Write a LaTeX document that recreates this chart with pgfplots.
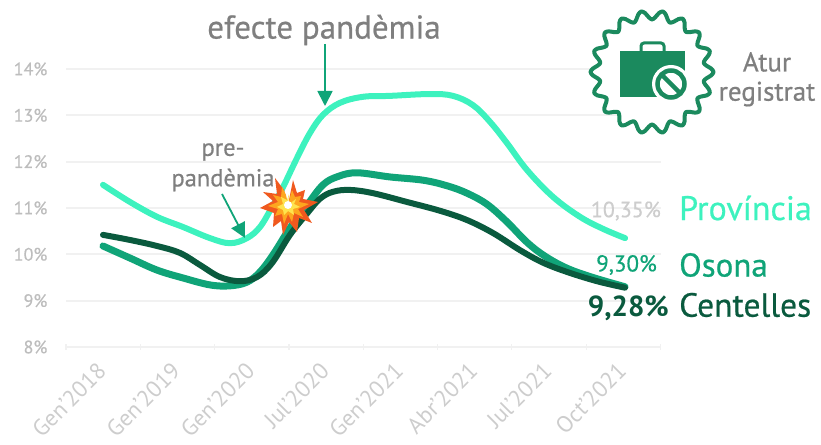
\documentclass[border=0pt]{standalone}
\usepackage{pgfplots}
\pgfplotsset{compat=1.18}
\usepackage{fontspec}
\setmainfont{PT Sans}
\newfontfamily\medf[FakeBold=0.6]{PT Sans}
\usetikzlibrary{arrows.meta}
\definecolor{prov}{HTML}{3DF2BE}
\definecolor{oso}{HTML}{10A478}
\definecolor{cen}{HTML}{0A5A3E}
\definecolor{badge}{HTML}{1B8A5E}
\definecolor{gtxt}{HTML}{7F7F7F}
\definecolor{ltick}{HTML}{CDCDCD}
\definecolor{ylab}{HTML}{BDBDBD}
\definecolor{gridc}{HTML}{F1F1F1}
\pgfplotstableread{
x y
103 11.50
130 11.13
157 10.81
183 10.59
210 10.35
230 10.24
247 10.35
260 10.59
272 11.02
283 11.45
297 12.08
310 12.62
323 13.01
340 13.27
363 13.40
390 13.42
430 13.46
453 13.42
473 13.22
490 12.86
507 12.40
527 11.82
553 11.24
580 10.81
603 10.55
625 10.35
}\provincia
\pgfplotstableread{
x y
103 10.18
130 9.92
157 9.66
183 9.49
210 9.34
230 9.32
247 9.40
260 9.62
273 9.99
290 10.57
307 11.06
323 11.50
338 11.68
357 11.76
390 11.67
423 11.60
447 11.48
467 11.32
487 11.08
507 10.70
527 10.26
545 9.96
567 9.70
593 9.50
625 9.30
}\osona
\pgfplotstableread{
x y
103 10.42
130 10.31
157 10.18
180 10.03
200 9.77
220 9.51
240 9.42
257 9.51
272 9.81
290 10.42
307 10.88
320 11.20
333 11.35
350 11.39
373 11.32
407 11.13
440 10.94
467 10.74
493 10.46
520 10.09
543 9.82
567 9.62
597 9.42
625 9.28
}\centelles
\begin{document}
\begin{tikzpicture}
\useasboundingbox (0pt,0pt) rectangle (821pt,444pt);
\begin{axis}[
  at={(66pt,97pt)},anchor=south west,
  scale only axis,width=595pt,height=278pt,
  xmin=66,xmax=661,ymin=8,ymax=14,
  clip=false,
  axis lines=left,
  axis line style={draw=none},
  ytick={8,9,...,14},
  yticklabel={\pgfmathprintnumber{\tick}\%},
  yticklabel style={font=\fontsize{18}{18}\selectfont\medf,text=ylab,anchor=east,xshift=-13pt},
  /pgf/number format/assume math mode=true,
  ymajorgrids,
  grid style={gridc,line width=1.8pt},
  ytick style={draw=none},
  xtick={103,177.3,251.6,325.9,400.2,474.5,548.8,623.1},
  xticklabels={Gen'2018,Gen'2019,Gen'2020,Jul'2020,Gen'2021,Abr'2021,Jul'2021,Oct'2021},
  major x tick style={draw=none},
  minor xtick={66,140.3,214.6,288.9,363.2,437.5,511.8,586.1,660.4},
  minor x tick style={gridc,line width=1.2pt},
  minor tick length=6pt,
  xticklabel style={font=\fontsize{23}{23}\selectfont,text=ltick,rotate=45,anchor=north east,xshift=-10pt,yshift=0pt},
]
\addplot[prov,line width=6pt,line cap=round,smooth,tension=0.6] table[x=x,y=y]{\provincia};
\addplot[oso,line width=7pt,line cap=round,smooth,tension=0.6] table[x=x,y=y]{\osona};
\addplot[cen,line width=6pt,line cap=round,smooth,tension=0.6] table[x=x,y=y]{\centelles};
\end{axis}
\begin{scope}[x=1pt,y=-1pt,yshift=444pt]
% annotations
\node[text=gtxt,font=\fontsize{33}{33}\selectfont\medf] at (324,30) {efecte pandèmia};
\node[text=gtxt,font=\fontsize{24.5}{24}\selectfont\medf] at (223,152) {pre-};
\node[text=gtxt,font=\fontsize{24.5}{24}\selectfont\medf] at (223,180) {pandèmia};
\draw[oso,line width=1.8pt,-{Triangle[length=15pt,width=15pt]}] (325,44) -- (325,106);
\draw[oso,line width=1.8pt,-{Triangle[length=15pt,width=15pt]}] (222,194) -- (245,238);
\node[text=gtxt,font=\fontsize{27}{27}\selectfont\medf] at (767,62) {Atur};
\node[text=gtxt,font=\fontsize{27}{27}\selectfont\medf] at (767,94) {registrat};
\node[anchor=west,inner sep=0,text=prov,font=\fontsize{34}{34}\selectfont\medf] at (679,208) {Província};
\node[anchor=west,inner sep=0,text=oso,font=\fontsize{33}{33}\selectfont\medf] at (679,265) {Osona};
\node[anchor=west,inner sep=0,text=cen,font=\fontsize{33.5}{33}\selectfont\medf] at (679,305) {Centelles};
\node[anchor=east,inner sep=0,text=ltick,font=\fontsize{22}{22}\selectfont\medf] at (661,211) {10,35\%};
\node[anchor=east,inner sep=0,text=oso,font=\fontsize{23}{23}\selectfont\medf] at (657,265) {9,30\%};
\node[anchor=east,inner sep=0,text=cen,font=\fontsize{29}{29}\selectfont\bfseries] at (669,308) {9,28\%};
% badge
\draw[badge,line width=4pt,line join=round,fill=white] plot[smooth cycle,samples=108,domain=0:356.6667] ({652+(57+4.5*cos(18*\x))*cos(\x)},{72+(57+4.5*cos(18*\x))*sin(\x)});
\fill[badge] (620,51) rectangle (685,97);
\draw[badge,line width=3pt,rounded corners=3pt] (641,51) -- (641,43) -- (664,43) -- (664,51);
\fill[white] (671,84) circle (19);
\draw[badge,line width=4.5pt] (671,84) circle (13.5);
\draw[badge,line width=4.5pt] (662,75) -- (680,93);
% explosion
\definecolor{ex1}{HTML}{F0591E}\definecolor{ex2}{HTML}{FDA61F}\definecolor{ex3}{HTML}{FFE34D}
\fill[ex1] (288,205) -- (293,180) -- (297,193) -- (305,190) -- (303,199) -- (318,202) -- (304,210) -- (312,223) -- (299,218) -- (297,232) -- (289,222) -- (283,235) -- (281,221) -- (273,227) -- (274,213) -- (260,208) -- (273,201) -- (263,192) -- (277,194) -- (275,178) -- (284,190) -- cycle;
\fill[ex2] (288,205) -- (292,190) -- (295,197) -- (301,196) -- (299,202) -- (309,204) -- (298,209) -- (303,217) -- (294,213) -- (292,222) -- (288,214) -- (284,224) -- (282,214) -- (275,216) -- (278,209) -- (268,206) -- (278,202) -- (273,195) -- (281,197) -- (282,187) -- (286,195) -- cycle;
\fill[ex3] (288,205) -- (296,199) -- (294,204) -- (300,207) -- (293,209) -- (294,215) -- (288,211) -- (284,215) -- (283,210) -- (277,207) -- (283,204) -- (281,197) -- (287,200) -- (289,194) -- cycle;
\fill[white] (288,205) circle (4);
\end{scope}
\end{tikzpicture}
\end{document}
